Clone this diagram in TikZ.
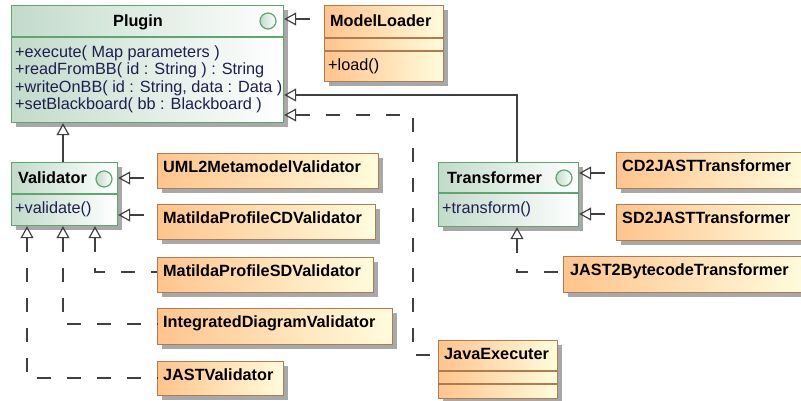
\documentclass[tikz,border=0pt]{standalone}
\usepackage{fontspec}
\setmainfont{Liberation Sans}
\usetikzlibrary{arrows.meta,shadows}

\definecolor{ifaceBorder}{RGB}{96,164,114}
\definecolor{ifaceFill}{RGB}{194,219,202}
\definecolor{clsBorder}{RGB}{172,124,84}
\definecolor{clsLeft}{RGB}{255,196,140}
\definecolor{clsRight}{RGB}{255,252,220}
\definecolor{lineC}{RGB}{64,64,64}
\definecolor{membC}{RGB}{30,30,80}
\definecolor{shadowC}{RGB}{168,168,168}

\tikzset{
  boxbase/.style={anchor=north west, inner sep=0pt, line width=1.2pt,
    drop shadow={shadow xshift=4pt, shadow yshift=-4pt, fill=shadowC, opacity=1}},
  ifacebox/.style={boxbase, draw=ifaceBorder, left color=ifaceFill, right color=white},
  clsbox/.style={boxbase, draw=clsBorder, left color=clsLeft, right color=clsRight},
  ifacecirc/.style={circle, draw=ifaceBorder, line width=1.2pt, minimum size=16pt,
    inner sep=0pt, left color=ifaceFill, right color=white},
  ifacesep/.style={draw=ifaceBorder, line width=1.2pt},
  clssep/.style={draw=clsBorder, line width=1.2pt},
  titletext/.style={inner sep=0pt, font=\fontsize{16.25}{17.6}\selectfont\bfseries, text=black},
  membtext/.style={inner sep=0pt, anchor=base west, font=\fontsize{16.25}{17.6}\selectfont, text=membC},
  gen/.style={draw=lineC, line width=1.2pt,
    {Triangle[open, length=12pt, width=13pt, line width=1.2pt]}-},
  real/.style={gen, dash pattern=on 14pt off 16pt},
}

\begin{document}
\begin{tikzpicture}[x=1pt, y=-1pt]
\useasboundingbox (0,0) rectangle (801,400);

% ---------- interfaces ----------
\node[ifacebox, minimum width=272pt, minimum height=117pt] (plugin) at (11,5) {};
\draw[ifacesep] (plugin.west |- 0,37) -- (plugin.east |- 0,37);
\node[ifacecirc] (plugC) at (268,21) {};
\node[titletext, anchor=base] (plugT) at (138,26) {Plugin};
\node[membtext] (plugM1) at (15,57) {+execute( Map parameters )};
\node[membtext] (plugM2) at (15,74.6) {+readFromBB( id : String ) : String};
\node[membtext] (plugM3) at (15,92.2) {+writeOnBB( id : String, data : Data )};
\node[membtext] (plugM4) at (15,109.8) {+setBlackboard( bb : Blackboard )};

\node[ifacebox, minimum width=106pt, minimum height=63pt] (validator) at (11,162) {};
\draw[ifacesep] (validator.west |- 0,194) -- (validator.east |- 0,194);
\node[ifacecirc] (valC) at (104,179) {};
\node[titletext, anchor=base west] (valT) at (18,183) {Validator};
\node[membtext] (valM) at (15,213) {+validate()};

\node[ifacebox, minimum width=140pt, minimum height=64pt] (transformer) at (438,162) {};
\draw[ifacesep] (transformer.west |- 0,193) -- (transformer.east |- 0,193);
\node[ifacecirc] (trC) at (564,178) {};
\node[titletext, anchor=base west] (trT) at (447,183) {Transformer};
\node[membtext] (trM) at (442,213) {+transform()};

% ---------- classes ----------
\node[clsbox, minimum width=119pt, minimum height=76pt] (modelloader) at (324,5) {};
\draw[clssep] (modelloader.west |- 0,38) -- (modelloader.east |- 0,38);
\draw[clssep] (modelloader.west |- 0,51) -- (modelloader.east |- 0,51);
\node[titletext, anchor=base west] (mlT) at (330,26) {ModelLoader};
\node[membtext, text=black] (mlM) at (328,70) {+load()};

\node[clsbox, minimum width=119pt, minimum height=58pt] (javaexec) at (438,340) {};
\draw[clssep] (javaexec.west |- 0,371) -- (javaexec.east |- 0,371);
\draw[clssep] (javaexec.west |- 0,384) -- (javaexec.east |- 0,384);
\node[titletext, anchor=base west] (jeT) at (444,359) {JavaExecuter};

\node[clsbox, minimum width=221pt, minimum height=35pt] (uml) at (157,153) {};
\node[titletext, anchor=base west] (umlT) at (163,172) {UML2MetamodelValidator};
\node[clsbox, minimum width=218pt, minimum height=35pt] (mcd) at (157,204) {};
\node[titletext, anchor=base west] (mcdT) at (163,223) {MatildaProfileCDValidator};
\node[clsbox, minimum width=216pt, minimum height=35pt] (msd) at (157,257) {};
\node[titletext, anchor=base west] (msdT) at (163,276) {MatildaProfileSDValidator};
\node[clsbox, minimum width=235pt, minimum height=36pt] (integ) at (157,308) {};
\node[titletext, anchor=base west] (integT) at (163,327) {IntegratedDiagramValidator};
\node[clsbox, minimum width=126pt, minimum height=34pt] (jastv) at (157,361) {};
\node[titletext, anchor=base west] (jastvT) at (163,380) {JASTValidator};

\node[clsbox, minimum width=190pt, minimum height=36pt] (cdj) at (616,152) {};
\node[titletext, anchor=base west] (cdjT) at (622,171) {CD2JASTTransformer};
\node[clsbox, minimum width=190pt, minimum height=36pt] (sdj) at (616,204) {};
\node[titletext, anchor=base west] (sdjT) at (622,223) {SD2JASTTransformer};
\node[clsbox, minimum width=243pt, minimum height=36pt] (jbc) at (563,256) {};
\node[titletext, anchor=base west] (jbcT) at (570,275) {JAST2BytecodeTransformer};

% ---------- relations to Plugin ----------
\draw[real] (plugin.east |- 0,19) -- (modelloader.west |- 0,19);
\draw[gen] (plugin.south -| 63,0) -- (validator.north -| 63,0);
\draw[gen] (plugin.east |- 0,95) -| (transformer.north -| 517,0);
\coordinate (jbend) at (413,355);
\draw[real] (plugin.east |- 0,115) -| (jbend) -- (javaexec.west |- jbend);

% ---------- relations to Validator ----------
\draw[real] (validator.east |- 0,178) -- (uml.west |- 0,178);
\draw[real] (validator.east |- 0,215) -- (mcd.west |- 0,215);
\draw[real] (validator.south -| 95,0) |- (msd.west |- 0,272);
\draw[real] (validator.south -| 63,0) |- (integ.west |- 0,324);
\draw[real] (validator.south -| 27,0) |- (jastv.west |- 0,378);

% ---------- relations to Transformer ----------
\draw[real] (transformer.east |- 0,173) -- (cdj.west |- 0,173);
\draw[real] (transformer.east |- 0,214) -- (sdj.west |- 0,214);
\draw[real] (transformer.south -| 517,0) |- (jbc.west |- 0,272);
\end{tikzpicture}
\end{document}
